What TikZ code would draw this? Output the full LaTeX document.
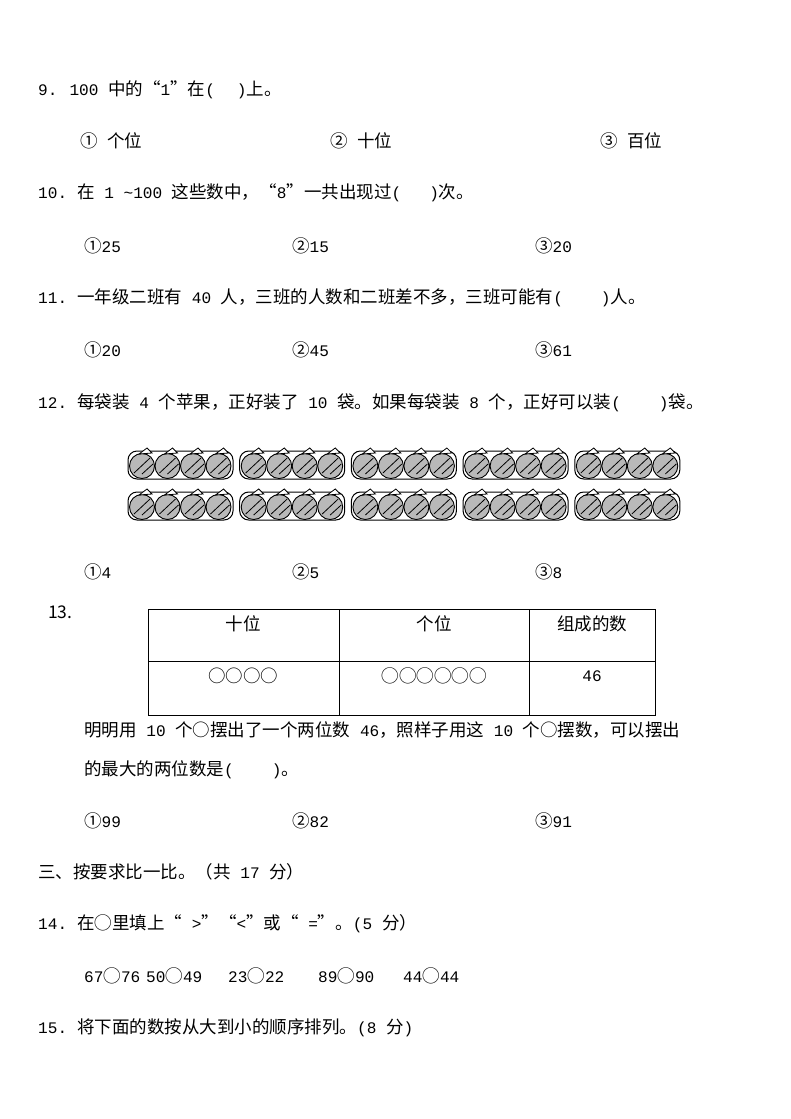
\documentclass[tikz,border=0pt]{standalone}
\usepackage{fontspec}
\setmainfont{Noto Sans CJK SC}
\newfontfamily\lm{Liberation Mono}[Scale=0.92]
\newcommand\m[1]{{\lm #1}}
\newcommand\pp[1]{{\lm(}\hspace{#1pt}{\lm)}}
\begin{document}
\begin{tikzpicture}[x=1pt,y=-1pt,
  txt/.style={anchor=west,inner sep=0pt,font=\fontsize{17.5}{20}\selectfont},
  apple/.style={draw=black,line width=0.9pt,fill=gray!55}]
\useasboundingbox[fill=white] (0,0) rectangle (790,1119);
\node[txt] (q9) at (38,90) {\m{9.}\hspace{12pt}\m{100 }中的“\m{1}”在\pp{22}上。};
\node[txt] (o9a) at (80,141) {①\m{ }个位};
\node[txt] (o9b) at (330,141) {②\m{ }十位};
\node[txt] (o9c) at (600,141) {③\m{ }百位};
\node[txt] (q10) at (38,193) {\m{10.}\hspace{10pt}在\m{ 1 \textasciitilde100 }这些数中，“\m{8}”一共出现过\pp{28}次。};
\node[txt] (o10a) at (84,246) {①\m{25}};
\node[txt] (o10b) at (292,246) {②\m{15}};
\node[txt] (o10c) at (535,246) {③\m{20}};
\node[txt] (q11) at (38,298) {\m{11.}\hspace{10pt}一年级二班有\m{ 40 }人，三班的人数和二班差不多，三班可能有\pp{38}人。};
\node[txt] (o11a) at (84,350) {①\m{20}};
\node[txt] (o11b) at (292,350) {②\m{45}};
\node[txt] (o11c) at (535,350) {③\m{61}};
\node[txt] (q12) at (38,403) {\m{12.}\hspace{10pt}每袋装\m{ 4 }个苹果，正好装了\m{ 10 }袋。如果每袋装\m{ 8 }个，正好可以装\pp{38}袋。};
\foreach \c in {0,...,4}{
 \foreach \r in {0,1}{
  \begin{scope}[shift={(128+111.7*\c,447+41*\r)}]
   \draw[line width=1pt,rounded corners=9pt,fill=white] (0,4) rectangle (105,32);
   \foreach \k in {0,...,3}{
     \draw[apple] (14+25.5*\k,19) circle (12.5);
     \draw[line width=0.8pt] (6+25.5*\k,26) -- (22+25.5*\k,11);
     \draw[line width=0.8pt] (14+25.5*\k,27) -- (25+25.5*\k,17);
     \draw[line width=0.8pt,fill=white] (11+25.5*\k,7) -- (19+25.5*\k,1) -- (24+25.5*\k,6) -- cycle;
   }
  \end{scope}}}
\node[txt] (o12a) at (84,572) {①\m{4}};
\node[txt] (o12b) at (292,572) {②\m{5}};
\node[txt] (o12c) at (535,572) {③\m{8}};
\node[txt] (q13) at (48,612) {13.};
\draw[line width=0.6pt] (148,609) rectangle (655,715);
\draw[line width=0.6pt] (148,661) -- (655,661) (339,609) -- (339,715) (529,609) -- (529,715);
\node[txt,anchor=center] (h1) at (243,624) {十位};
\node[txt,anchor=center] (h2) at (434,624) {个位};
\node[txt,anchor=center] (h3) at (592,624) {组成的数};
\node[txt,anchor=center] (c1) at (243,676) {○○○○};
\node[txt,anchor=center] (c2) at (434,676) {◯◯◯◯◯◯};
\node[txt,anchor=center] (c3) at (592,676) {\m{46}};
\node[txt] (l1) at (84,730) {明明用\m{ 10 }个○摆出了一个两位数\m{ 46}，照样子用这\m{ 10 }个○摆数，可以摆出};
\node[txt] (l2) at (84,770) {的最大的两位数是\pp{38}。};
\node[txt] (o13a) at (84,821) {①\m{99}};
\node[txt] (o13b) at (292,821) {②\m{82}};
\node[txt] (o13c) at (535,821) {③\m{91}};
\node[txt] (s3) at (38,872) {三、按要求比一比。（共\m{ 17 }分）};
\node[txt] (q14) at (38,924) {\m{14.}\hspace{10pt}在◯里填上“\m{ >}”“\m{<}”或“\m{ =}”。\m{(5}\hspace{10pt}分）};
\node[txt] (n14a) at (84,976) {\m{67}◯\m{76}};
\node[txt] (n14b) at (146,976) {\m{50}◯\m{49}};
\node[txt] (n14c) at (228,976) {\m{23}◯\m{22}};
\node[txt] (n14d) at (318,976) {\m{89}◯\m{90}};
\node[txt] (n14e) at (403,976) {\m{44}◯\m{44}};
\node[txt] (q15) at (38,1028) {\m{15.}\hspace{10pt}将下面的数按从大到小的顺序排列。\m{(8 }分\m{)}};
\end{tikzpicture}
\end{document}
